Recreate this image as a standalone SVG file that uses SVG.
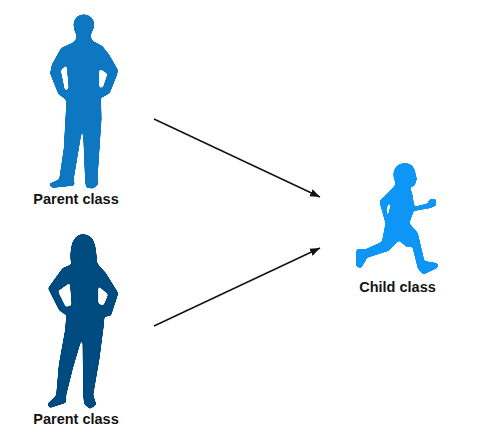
<svg xmlns="http://www.w3.org/2000/svg" width="491" height="441" viewBox="0 0 491 441">
<style>
.fig{stroke-width:6;stroke-linejoin:round;fill-rule:evenodd}
.soft{filter:url(#smooth)}
.lbl{font-family:"Liberation Sans",Arial,sans-serif;font-size:14.5px;font-weight:700;fill:#141414;text-anchor:middle}
.conn{stroke:#111;stroke-width:1.4;fill:none;marker-end:url(#arrow)}
</style>
<defs>
<marker id="arrow" markerUnits="userSpaceOnUse" markerWidth="11" markerHeight="9" refX="10" refY="4" orient="auto">
<path d="M0 0L10 4L0 8Z" fill="#111"/>
</marker>
<filter id="smooth" x="-5%" y="-5%" width="110%" height="110%">
<feGaussianBlur stdDeviation="0.8"/>
<feComponentTransfer><feFuncA type="linear" slope="7" intercept="-3"/></feComponentTransfer>
<feGaussianBlur stdDeviation="0.3"/>
</filter>
</defs>
<rect width="491" height="441" fill="#fff"/>
<g id="connectors">
<line class="conn" x1="154" y1="119" x2="320" y2="197"/>
<line class="conn" x1="154" y1="326" x2="320" y2="248"/>
</g>
<g id="parent-father">
<g class="soft">
<g transform="translate(30 5) scale(.3333)">
<path class="fig" fill="#0a77c2" stroke="#0a77c2" d="M160 31C178 31 190 43 190 60C190 72 186 78 181 85L179 96L187 110L215 125L235 150L261 195L259 208L237 263L216 275L210 272L212 340L200 520L203 535L190 548L171 546L168 530L160 335L129 520L131 539L68 546L60 538L90 525L104 430L112 285L87 265L63 205L68 180L95 131L130 115L141 104L141 88C135 78 133 70 133 58C134 42 146 31 160 31ZM89 194L112 174L119 252L103 262ZM205 185L236 205L221 250L205 253Z"/>
</g>
</g>
<text class="lbl" x="76" y="204">Parent class</text>
</g>
<g id="parent-mother">
<g class="soft">
<g transform="translate(30 225) scale(.3333)">
<path class="fig" fill="#004b7f" stroke="#004b7f" d="M158 30C177 30 189 44 193 62L197 90L198 112L207 126L226 146L262 205L241 270L221 273L219 300L206 400L187 510L196 538L180 549L165 536L162 510L160 316L126 430L106 510L106 531L60 546L55 538L81 512L89 420L107 320L112 270L90 255L57 190L100 131L127 120C122 100 124 72 130 52C136 40 146 30 158 30ZM80 198L122 168L128 244L106 250ZM202 176L238 208L222 246L202 238Z"/>
</g>
</g>
<text class="lbl" x="76" y="424">Parent class</text>
</g>
<g id="child">
<g class="soft">
<g transform="translate(345 155) scale(.3333)">
<path class="fig" fill="#0a96f5" stroke="#0a96f5" d="M180 27C198 27 208 40 209 56L213 72L207 90L191 96L199 115L206 158L250 148L255 135L271 134L271 150L255 157L204 166L190 205L216 235L236 320L276 327L276 336L236 356L221 340L204 272L185 273L162 253L130 285L65 306L47 337L35 332L37 285L60 286L113 262L124 205L106 140L149 96L156 86C149 75 146 62 149 48C154 34 166 27 180 27ZM126 144L141 144L130 190L121 178Z"/>
</g>
</g>
<text class="lbl" x="397.500" y="292">Child class</text>
</g>
</svg>
